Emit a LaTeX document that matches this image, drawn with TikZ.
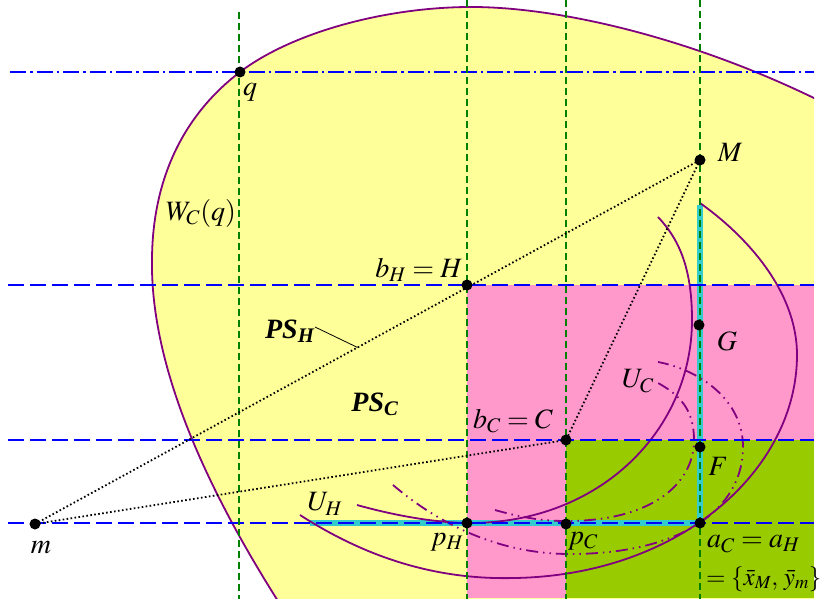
\documentclass[tikz,border=0pt]{standalone}
\usepackage{mathptmx}
\usepackage{fontspec}
\setmainfont{Liberation Serif}
\usetikzlibrary{calc}
\definecolor{wyellow}{RGB}{255,255,153}
\definecolor{wpink}{RGB}{255,153,204}
\definecolor{wgreen}{RGB}{153,204,0}
\definecolor{wcyan}{RGB}{51,204,204}
\definecolor{wpurple}{RGB}{128,0,128}
\definecolor{wdgreen}{RGB}{0,128,0}
\begin{document}
\begin{tikzpicture}[x=1pt,y=-1pt,
  bdash/.style={blue,line width=1.8pt,dash pattern=on 16pt off 6pt},
  bdashdot/.style={blue,line width=1.8pt,dash pattern=on 16pt off 4pt on 2.5pt off 4pt},
  gdash/.style={wdgreen,line width=1.4pt,dash pattern=on 7pt off 4pt},
  pcurve/.style={wpurple,line width=1.8pt},
  pdd/.style={wpurple,line width=1.8pt,dash pattern=on 12pt off 5pt on 1.5pt off 5pt on 1.5pt off 5pt},
  dotline/.style={black,line width=1.8pt,dash pattern=on 1.6pt off 2.4pt},
  hl/.style={wcyan,line width=6pt},
  pt/.style={circle,fill=black,inner sep=0pt,minimum size=11pt},
  lab/.style={inner sep=0pt,font=\fontsize{28}{32}\selectfont}]
\useasboundingbox (0,0) rectangle (822,602);
\begin{scope}
\clip (0,0) rectangle (814,598);
% yellow region W_C(q)
\def\Wpath{(285,612) .. controls (200,480) and (150,360) .. (152,258)
  .. controls (153,170) and (190,110) .. (240,72)
  .. controls (290,34) and (380,8) .. (467,7)
  .. controls (560,6) and (700,40) .. (830,106)}
\fill[wyellow] \Wpath -- (830,612) -- cycle;
\fill[wpink] (467,285) rectangle (814,598);
\fill[wgreen] (566,440) rectangle (814,598);
\draw[pcurve] \Wpath;
% highlighted edges
\coordinate (cyS) at (310,523);
\coordinate (cyT) at (700,205);
\coordinate (aC) at (700,523);
\draw[hl] (cyS) -- (aC) -- (cyT);
% purple curves
\draw[pcurve] (300,515) .. controls (370,560) and (440,580) .. (515,578)
  .. controls (680,575) and (797,470) .. (797,355)
  .. controls (797,290) and (745,235) .. (700,203);
\draw[pcurve] (357,505) .. controls (400,517) and (440,523) .. (470,523)
  .. controls (600,523) and (692,430) .. (692,320)
  .. controls (692,270) and (680,240) .. (658,217);
\draw[pdd] (393,485) .. controls (440,525) and (500,554) .. (570,554)
  .. controls (680,554) and (743,510) .. (743,447)
  .. controls (743,400) and (700,370) .. (658,362);
\draw[pdd] (495,510) .. controls (530,520) and (550,521) .. (567,521)
  .. controls (650,521) and (694,485) .. (694,440)
  .. controls (694,410) and (680,395) .. (658,383);
% guide lines
\draw[bdashdot] (10,72) -- (814,72);
\draw[bdash] (8,285) -- (814,285);
\draw[bdash] (8,440) -- (814,440);
\draw[bdash] (8,523) -- (814,523);
\draw[gdash] (239,12) -- (239,600);
\draw[gdash] (467,0) -- (467,600);
\draw[gdash] (566,0) -- (566,600);
\draw[gdash] (700,0) -- (700,600);
\end{scope}
% points
\node[pt] (q) at (240,72) {};
\node[pt] (H) at (467,285) {};
\node[pt] (M) at (700,160) {};
\node[pt] (G) at (699,325) {};
\node[pt] (C) at (566,440) {};
\node[pt] (F) at (700,447) {};
\node[pt] (m) at (35,524) {};
\node[pt] (pH) at (467,523) {};
\node[pt] (pC) at (566,524) {};
\node[pt] (a) at (700,523) {};
% dotted lines
\draw[dotline] (m.center) -- (M.center);
\draw[dotline] (m.center) -- (C.center);
\draw[dotline] (M.center) -- (C.center);
\coordinate (psp) at ($(m)!0.485!(M)$);
% labels
\node[lab] (lq) at (250,92) {$q$};
\node[lab] (lW) at (201,213) {$W_C(q)$};
\node[lab] (lH) at (419,270) {$b_H = H$};
\node[lab] (lPSH) at (290,331) {\textbf{\textit{PS}}\textsubscript{\textbf{\textit{H}}}};
\draw[black,line width=0.8pt] (315,327) -- (psp);
\node[lab] (lPSC) at (375,404) {\textbf{\textit{PS}}\textsubscript{\textbf{\textit{C}}}};
\node[lab] (lm) at (41,548) {$m$};
\node[lab] (lUH) at (325,504) {$U_H$};
\node[lab] (lpH) at (447,542) {$p_H$};
\node[lab] (lpC) at (583,541) {$p_C$};
\node[lab,anchor=west] (la) at (707,544) {$a_C = a_H$};
\node[lab,anchor=west,font=\fontsize{25}{29}\selectfont] (la2) at (706,579) {$=\{\bar{x}_M,\,\bar{y}_m\}$};
\node[lab] (lC) at (513,421) {$b_C = C$};
\node[lab] (lF) at (718,466) {$F$};
\node[lab] (lG) at (727,341) {$G$};
\node[lab] (lM) at (730,152) {$M$};
\node[lab] (lUC) at (638,381) {$U_C$};
\end{tikzpicture}
\end{document}
